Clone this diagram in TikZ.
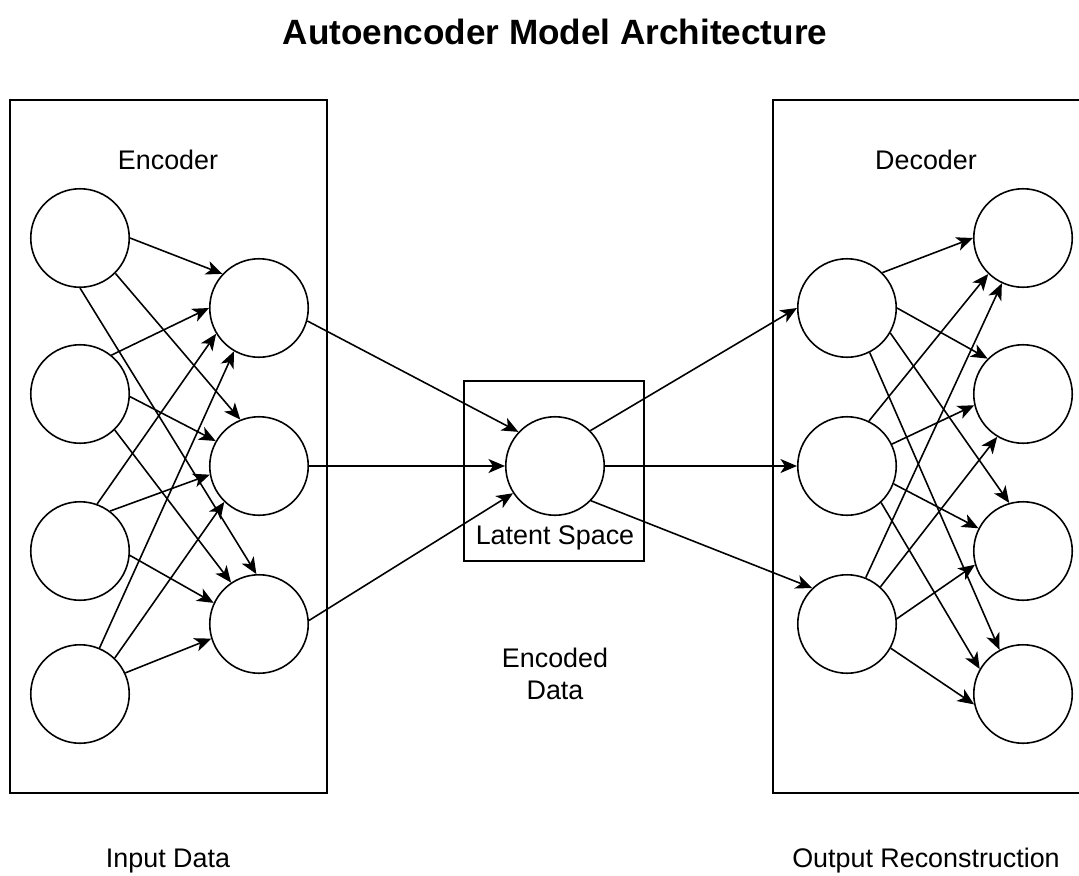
\documentclass[tikz,border=0pt]{standalone}
\usepackage{fontspec}
\setmainfont{Liberation Sans}
\usetikzlibrary{arrows.meta}

\begin{document}
\begin{tikzpicture}[x=0.02cm,y=-0.02cm]
    \tikzstyle{neuron}=[circle,draw,line width=0.9pt,minimum size=1.97cm,inner sep=0pt]
    \tikzstyle{link}=[line width=0.9pt,-{Stealth[length=3.3mm,width=2.8mm,inset=0.9mm]}]
    \tikzstyle{panel}=[draw,line width=0.9pt]
    \tikzstyle{lbl}=[font=\fontsize{15.3}{18.4}\selectfont,inner sep=0pt]
    \useasboundingbox (0,0) rectangle (1079,876);
    \clip (0,0) rectangle (1079,876);

    \node[lbl,anchor=base,font=\fontsize{20}{24}\selectfont\bfseries] (title) at (555,44) {Autoencoder Model Architecture};

    % encoder / decoder frames and the bottleneck
    \draw[panel] (10,100) rectangle (327,793);
    \draw[panel] (773,100) rectangle (1095,793);
    \draw[panel] (464,381) rectangle (644,561);

    \node[lbl,anchor=base] (enclbl) at (168,169) {Encoder};
    \node[lbl,anchor=base] (declbl) at (926,169) {Decoder};
    \node[lbl,anchor=base] (latlbl) at (555,544) {Latent Space};
    \node[lbl,align=center] (code) at (555,674) {Encoded\\Data};
    \node[lbl,anchor=base] (inlbl) at (168,867) {Input Data};
    \node[lbl,anchor=base] (outlbl) at (926,867) {Output Reconstruction};

    \node[neuron] (in1) at (80,238) {};
    \node[neuron] (in2) at (80,394) {};
    \node[neuron] (in3) at (80,551) {};
    \node[neuron] (in4) at (80,694) {};
    \node[neuron] (enc1) at (259,308) {};
    \node[neuron] (enc2) at (259,466) {};
    \node[neuron] (enc3) at (259,624) {};
    \node[neuron] (lat) at (555,466) {};
    \node[neuron] (dec1) at (847,308) {};
    \node[neuron] (dec2) at (847,466) {};
    \node[neuron] (dec3) at (847,624) {};
    \node[neuron] (out1) at (1023,238) {};
    \node[neuron] (out2) at (1023,394) {};
    \node[neuron] (out3) at (1023,551) {};
    \node[neuron] (out4) at (1023,694) {};

    % input -> hidden
    \draw[link] (in1.0) -- (enc1.137);
    \draw[link] (in1.-45) -- (enc2.112);
    \draw[link] (in1.-90) -- (enc3.93);
    \draw[link] (in2.51) -- (enc1.180);
    \draw[link] (in2.-3) -- (enc2.150);
    \draw[link] (in2.-46) -- (enc3.124);
    \draw[link] (in3.70) -- (enc1.211);
    \draw[link] (in3.53) -- (enc2.190);
    \draw[link] (in3.-5) -- (enc3.155);
    \draw[link] (in4.67) -- (enc1.240);
    \draw[link] (in4.46) -- (enc2.226);
    \draw[link] (in4.25) -- (enc3.197);

    % hidden -> latent -> hidden
    \draw[link] (enc1.-15) -- (lat.137);
    \draw[link] (enc2.0) -- (lat.180);
    \draw[link] (enc3.4) -- (lat.213);
    \draw[link] (lat.45) -- (dec1.180);
    \draw[link] (lat.0) -- (dec2.180);
    \draw[link] (lat.-44) -- (dec3.134);

    % hidden -> output
    \draw[link] (dec1.45) -- (out1.180);
    \draw[link] (dec1.0) -- (out2.135);
    \draw[link] (dec1.-30) -- (out3.106);
    \draw[link] (dec1.-63) -- (out4.118);
    \draw[link] (dec2.64) -- (out1.226);
    \draw[link] (dec2.26) -- (out2.193);
    \draw[link] (dec2.-21) -- (out3.153);
    \draw[link] (dec2.-47) -- (out4.150);
    \draw[link] (dec3.68) -- (out1.245);
    \draw[link] (dec3.48) -- (out2.239);
    \draw[link] (dec3.6) -- (out3.196);
    \draw[link] (dec3.-29) -- (out4.192);

\end{tikzpicture}
\end{document}
